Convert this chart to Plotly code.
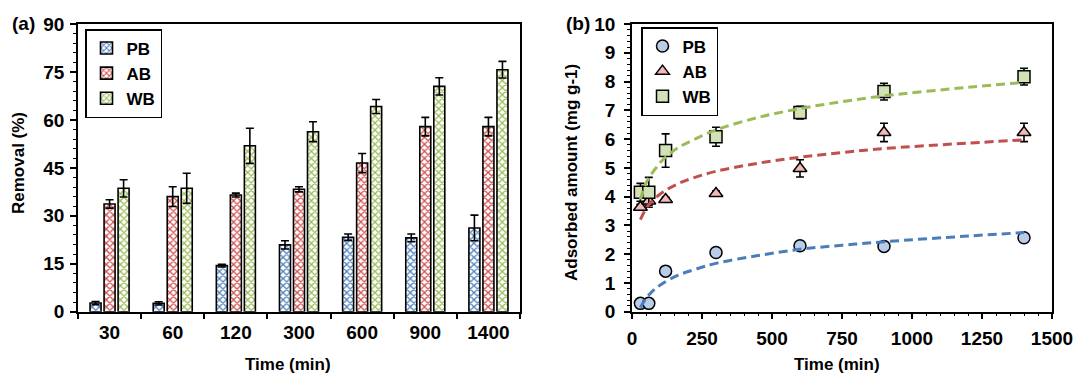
import plotly.graph_objects as go

# ---------------- data ----------------
time_cats = ["30", "60", "120", "300", "600", "900", "1400"]
pb_removal = [2.7, 2.6, 14.4, 20.9, 23.3, 23.1, 26.2]
ab_removal = [33.7, 36.0, 36.5, 38.3, 46.5, 57.9, 57.9]
wb_removal = [38.6, 38.6, 51.9, 56.3, 64.2, 70.5, 75.7]
pb_removal_err = [0.5, 0.5, 0.4, 1.3, 1.0, 1.2, 4.0]
ab_removal_err = [1.3, 3.1, 0.6, 0.8, 3.0, 2.9, 2.9]
wb_removal_err = [2.7, 4.7, 5.5, 3.1, 2.2, 2.7, 2.6]

time_min = [30, 60, 120, 300, 600, 900, 1400]
pb_q = [0.29, 0.29, 1.41, 2.06, 2.29, 2.27, 2.57]
ab_q = [3.63, 3.85, 3.90, 4.11, 4.98, 6.23, 6.23]
wb_q = [4.15, 4.15, 5.60, 6.08, 6.92, 7.65, 8.17]
pb_q_err = [0.03, 0.03, 0.05, 0.05, 0.05, 0.05, 0.05]
ab_q_err = [0.10, 0.15, 0.08, 0.08, 0.30, 0.32, 0.32]
wb_q_err = [0.31, 0.52, 0.58, 0.33, 0.22, 0.29, 0.29]

fit_t = [30, 45, 60, 82, 112, 165, 225, 300, 450, 600, 750, 900, 1200, 1400]
pb_fit = [0.15, 0.39, 0.58, 0.79, 1.00, 1.27, 1.47, 1.68, 1.95, 2.17, 2.31, 2.43, 2.63, 2.75]
ab_fit = [3.20, 3.50, 3.72, 3.94, 4.17, 4.45, 4.67, 4.88, 5.16, 5.37, 5.53, 5.67, 5.86, 5.97]
wb_fit = [3.90, 4.35, 4.65, 4.95, 5.30, 5.70, 6.00, 6.32, 6.75, 7.06, 7.30, 7.50, 7.80, 7.97]

series = ["PB", "AB", "WB"]

# ---------------- styles ----------------
FONT = "Liberation Sans, Arial, sans-serif"
fg = {"PB": "#4f81bd", "AB": "#d0504d", "WB": "#9bbb59"}
bg = {"PB": "#dce6f4", "AB": "#f6dcdc", "WB": "#e8f0d8"}
mfill = {"PB": "#b9cde8", "AB": "#f2b9b8", "WB": "#d3e2b6"}
line_c = {"PB": "#4a7ebb", "AB": "#c0504d", "WB": "#9bbb59"}
symbols = {"PB": "circle", "AB": "triangle-up", "WB": "square"}

fig = go.Figure()

bar_vals = {"PB": pb_removal, "AB": ab_removal, "WB": wb_removal}
bar_errs = {"PB": pb_removal_err, "AB": ab_removal_err, "WB": wb_removal_err}
for s in series:
    fig.add_trace(go.Bar(
        x=time_cats, y=bar_vals[s], name=s, legend="legend",
        marker=dict(color=bg[s], line=dict(color="black", width=1.6),
                    pattern=dict(shape="x", fgcolor=fg[s], bgcolor="white",
                                 size=5, solidity=0.45, fillmode="replace")),
        error_y=dict(type="data", array=bar_errs[s], color="black", thickness=1.6, width=4),
        xaxis="x", yaxis="y",
    ))

sc_vals = {"PB": pb_q, "AB": ab_q, "WB": wb_q}
sc_errs = {"PB": pb_q_err, "AB": ab_q_err, "WB": wb_q_err}
fits = {"PB": pb_fit, "AB": ab_fit, "WB": wb_fit}
for s in series:
    fig.add_trace(go.Scatter(
        x=time_min, y=sc_vals[s], name=s, mode="markers", legend="legend2",
        marker=dict(symbol=symbols[s], size=12, color=mfill[s], line=dict(color="black", width=1.5)),
        error_y=dict(type="data", array=sc_errs[s], color="black", thickness=1.6, width=4),
        xaxis="x2", yaxis="y2",
    ))
for s in series:
    fig.add_trace(go.Scatter(
        x=fit_t, y=fits[s], mode="lines", showlegend=False,
        line=dict(color=line_c[s], width=3, dash="9px,5px", shape="spline"),
        xaxis="x2", yaxis="y2", hoverinfo="skip",
    ))

tickfont = dict(family=FONT, size=19, color="black", weight="bold")
ax_common = dict(showline=True, mirror=True, linecolor="black", linewidth=1.5,
                 ticks="outside", ticklen=6, tickwidth=1.5, tickcolor="black",
                 showgrid=False, zeroline=False, tickfont=tickfont, automargin=False)

ydom = [1 - 311.7 / 376, 1 - 24 / 376]
legend_font = dict(family=FONT, size=17, color="black", weight="bold")
fig.update_layout(
    width=1092, height=376, autosize=False, margin=dict(l=0, r=0, t=0, b=0, pad=0),
    paper_bgcolor="white", plot_bgcolor="white",
    barmode="group", bargap=0.334, bargroupgap=0.214,
    xaxis=dict(domain=[78 / 1092, 520 / 1092], anchor="y", type="category",
               tickson="boundaries", ticklabelstandoff=3, **ax_common),
    yaxis=dict(domain=ydom, anchor="x", range=[0, 90], dtick=15, ticklabelstandoff=2,
               minor=dict(dtick=3, ticks="outside", ticklen=3, tickwidth=1, tickcolor="black"),
               **ax_common),
    xaxis2=dict(domain=[632 / 1092, 1052 / 1092], anchor="y2", range=[0, 1500], dtick=250,
                ticklabelstandoff=3,
                minor=dict(dtick=50, ticks="outside", ticklen=3, tickwidth=1, tickcolor="black"),
                **ax_common),
    yaxis2=dict(domain=ydom, anchor="x2", range=[0, 10], dtick=1, ticklabelstandoff=5,
                minor=dict(dtick=0.2, ticks="outside", ticklen=3, tickwidth=1, tickcolor="black"),
                **ax_common),
    legend=dict(x=85 / 1092, y=1 - 29 / 376, xanchor="left", yanchor="top",
                bgcolor="white", bordercolor="black", borderwidth=1.5,
                font=legend_font, itemwidth=30, tracegroupgap=0),
    legend2=dict(x=641 / 1092, y=1 - 27 / 376, xanchor="left", yanchor="top",
                 bgcolor="white", bordercolor="black", borderwidth=1.5,
                 font=legend_font, itemwidth=30, tracegroupgap=0),
    showlegend=True,
)

title_font = dict(family=FONT, size=17, color="black", weight="bold")
label_font = dict(family=FONT, size=19, color="black", weight="bold")
annots = [
    dict(text="Removal (%)", x=18, y=163, textangle=-90, font=title_font),
    dict(text="Adsorbed amount (mg g-1)", x=571, y=173, textangle=-90, font=title_font),
    dict(text="Time (min)", x=288, y=364, font=title_font),
    dict(text="Time (min)", x=837, y=364, font=title_font),
    dict(text="(a)", x=23, y=24, font=label_font),
    dict(text="(b)", x=578, y=24, font=label_font),
]
for a in annots:
    fig.add_annotation(text=a["text"], x=a["x"] / 1092, y=1 - a["y"] / 376,
                       xref="paper", yref="paper", showarrow=False,
                       xanchor="center", yanchor="middle",
                       textangle=a.get("textangle", 0), font=a["font"])

fig.write_html("out.html")
